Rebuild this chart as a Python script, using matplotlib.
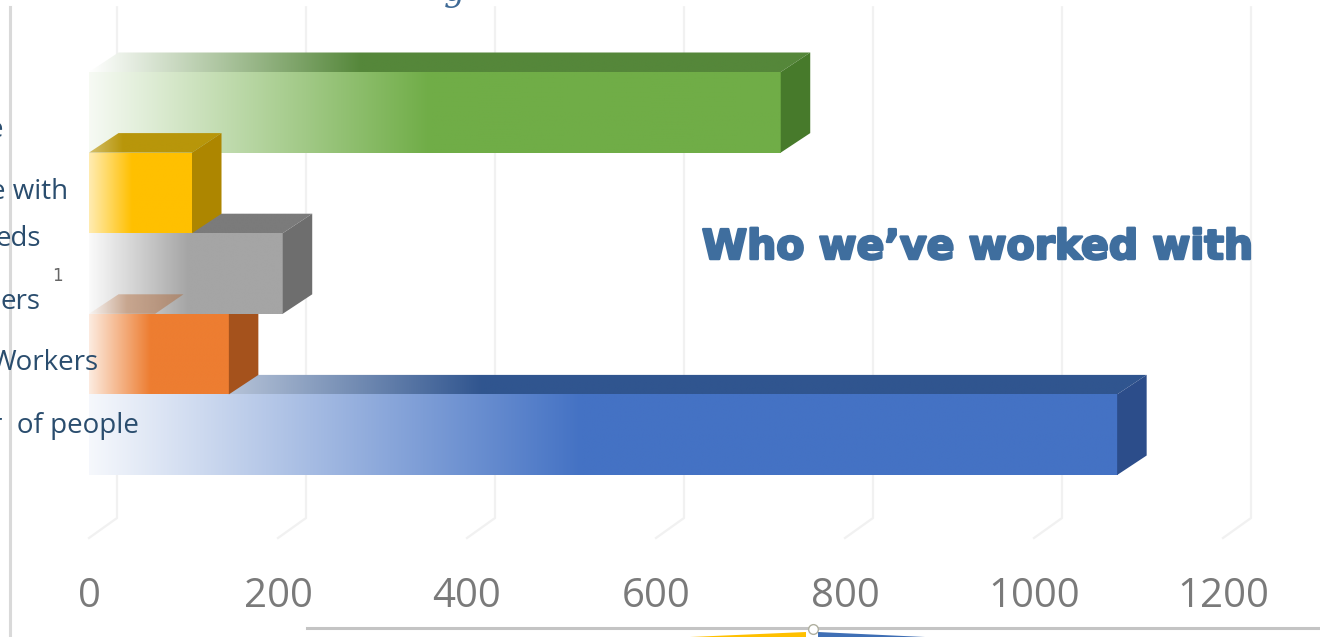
import numpy as np
import matplotlib
matplotlib.use('Agg')
import matplotlib.pyplot as plt
import matplotlib.colors as mcolors
import matplotlib.patheffects as pe
from matplotlib.patches import Polygon

# top row first, only the clipped label fragments can be read in the picture
row_labels = ['e', 'e with', 'eds', 'ers', 'Workers', 'r  of people']
label_y = [130, 192, 239, 302, 363, 426]
label_right = [3, 68, 41, 40, 99, 139]

values = [732, 109, 205, 148, 1088]
x_ticks = [0, 200, 400, 600, 800, 1000, 1200]

front_colors = ['#70ad47', '#ffc000', '#a5a5a5', '#ed7d31', '#4472c4']
top_colors = ['#55873a', '#b8960a', '#7b7b7b', '#ae5a21', '#30558f']
side_colors = ['#477a2b', '#ad8600', '#6e6e6e', '#a5521c', '#2c4d8a']
fade_end = [360, 45, 105, 65, 520]
fade_start = [0.06, 0.3, 0.05, 0.15, 0.05]
top_start = [0.0, 0.6, 0.3, 0.3, 0.0]
draw_order = [4, 3, 2, 0, 1]  # yellow sits on top of the green bar

W, H = 1320, 637
PX_X = 0.945   # pixels per unit
PX_Y = 80.6    # pixels per row
DX = 29.5 / PX_X
DY = 19.5 / PX_Y
GRID_DX = 28 / PX_X

fig = plt.figure(figsize=(W / 100, H / 100), dpi=100, facecolor='white')
bottom_px = 545
ax = fig.add_axes([0, 1 - bottom_px / H, 1, bottom_px / H])
xlim = (-89 / PX_X, (W - 89) / PX_X)
ylim = ((bottom_px - 112.3) / PX_Y, -112.3 / PX_Y)
ax.set_xlim(xlim)
ax.set_ylim(ylim)
for s in ax.spines.values():
    s.set_visible(False)


def gradient(color, start, stop, x1):
    xs = np.linspace(0, x1, 400)
    c = np.array(mcolors.to_rgb(color))
    t = np.interp(xs, [0, stop], [start, 1])
    return (1 - t)[:, None] * np.ones(3) + t[:, None] * c


def shade(patch, color, start, stop, x1, y0, y1, z, alpha=1):
    im = ax.imshow(gradient(color, start, stop, x1)[None, :, :], aspect='auto',
                   extent=[0, x1, y1, y0], zorder=z, alpha=alpha, interpolation='bilinear')
    im.set_clip_path(patch)


# gridlines on the back wall and floor
y_back_top = -105 / PX_Y
y_floor = (518 - 112.3) / PX_Y
for t in x_ticks:
    ax.plot([t + GRID_DX, t + GRID_DX, t], [y_back_top, y_floor, y_floor + 20 / PX_Y],
            color='#f1f1f1', lw=1.6, zorder=1)

for n, i in enumerate(draw_order):
    z = 2 + n
    v = values[i]
    bar = ax.barh(i, v, height=1, color='white', zorder=z)[0]
    shade(bar, front_colors[i], fade_start[i], fade_end[i], v, i - 0.5, i + 0.5, z + 0.3)
    top = Polygon([(0, i - 0.5), (v, i - 0.5), (v + DX, i - 0.5 - DY), (DX, i - 0.5 - DY)],
                  closed=True, facecolor='none', edgecolor='none', zorder=z)
    ax.add_patch(top)
    shade(top, top_colors[i], top_start[i], fade_end[i] * 0.8, v + DX, i - 0.5 - DY, i - 0.5, z + 0.2)
    side = Polygon([(v, i - 0.5), (v + DX, i - 0.5 - DY), (v + DX, i + 0.5 - DY), (v, i + 0.5)],
                   closed=True, facecolor=side_colors[i], edgecolor='none', zorder=z + 0.4)
    ax.add_patch(side)

# faint trace of the orange top showing through the grey bar
ghost = Polygon([(0, 2.5), (70, 2.5), (100, 2.5 - DY), (DX, 2.5 - DY)],
                closed=True, facecolor='none', edgecolor='none', zorder=9)
ax.add_patch(ghost)
shade(ghost, top_colors[3], 0.1, 40, 100, 2.5 - DY, 2.5, 9, alpha=0.4)

ax.set_xticks(x_ticks)
ax.set_xticklabels([str(t) for t in x_ticks], fontfamily='Open Sans', fontsize=29, color='#7a7a7a')
ax.set_yticks([])
ax.tick_params(axis='x', length=0, pad=23)
ax.set_xlim(xlim)
ax.set_ylim(ylim)

# page furniture, in pixels
pg = fig.add_axes([0, 0, 1, 1], facecolor='none')
pg.set_xlim(0, W)
pg.set_ylim(H, 0)
pg.axis('off')
pg.plot([9.5, 9.5], [7, H], color='#d9d9d9', lw=2.2, zorder=1)
pg.plot([307, W], [627.5, 627.5], color='#c4c4c4', lw=2.2, zorder=1)
pg.fill([690, 806, 806], [637, 632, 637], color='#ffc000', lw=0, zorder=1)
pg.fill([818, 818, 925], [632, 637, 637], color='#3f6fb5', lw=0, zorder=1)
pg.plot([813], [629], marker='o', ms=7, mfc='white', mec='#b0b0a0', mew=1, zorder=2)

for lab, y, x in zip(row_labels, label_y, label_right):
    pg.text(x, y, lab, ha='right', va='center', fontfamily='Open Sans', fontsize=20, color='#2a4d6e', zorder=3)
pg.text(57, 276, '1', ha='center', va='center', fontfamily='DejaVu Sans', fontsize=12, color='#666666', zorder=3)
pg.text(455, 1, 'g', ha='center', va='baseline', fontfamily='DejaVu Serif', style='italic', fontsize=24, color='#3f6a96', zorder=3)
pg.text(978, 248, 'Who we\u2019ve worked with', ha='center', va='center', fontfamily='DejaVu Sans',
        fontweight='bold', fontsize=29.5, color='#3f6e9e', zorder=3,
        path_effects=[pe.withStroke(linewidth=1.8, foreground='#3f6e9e')])

fig.savefig('out.png', dpi=100)
